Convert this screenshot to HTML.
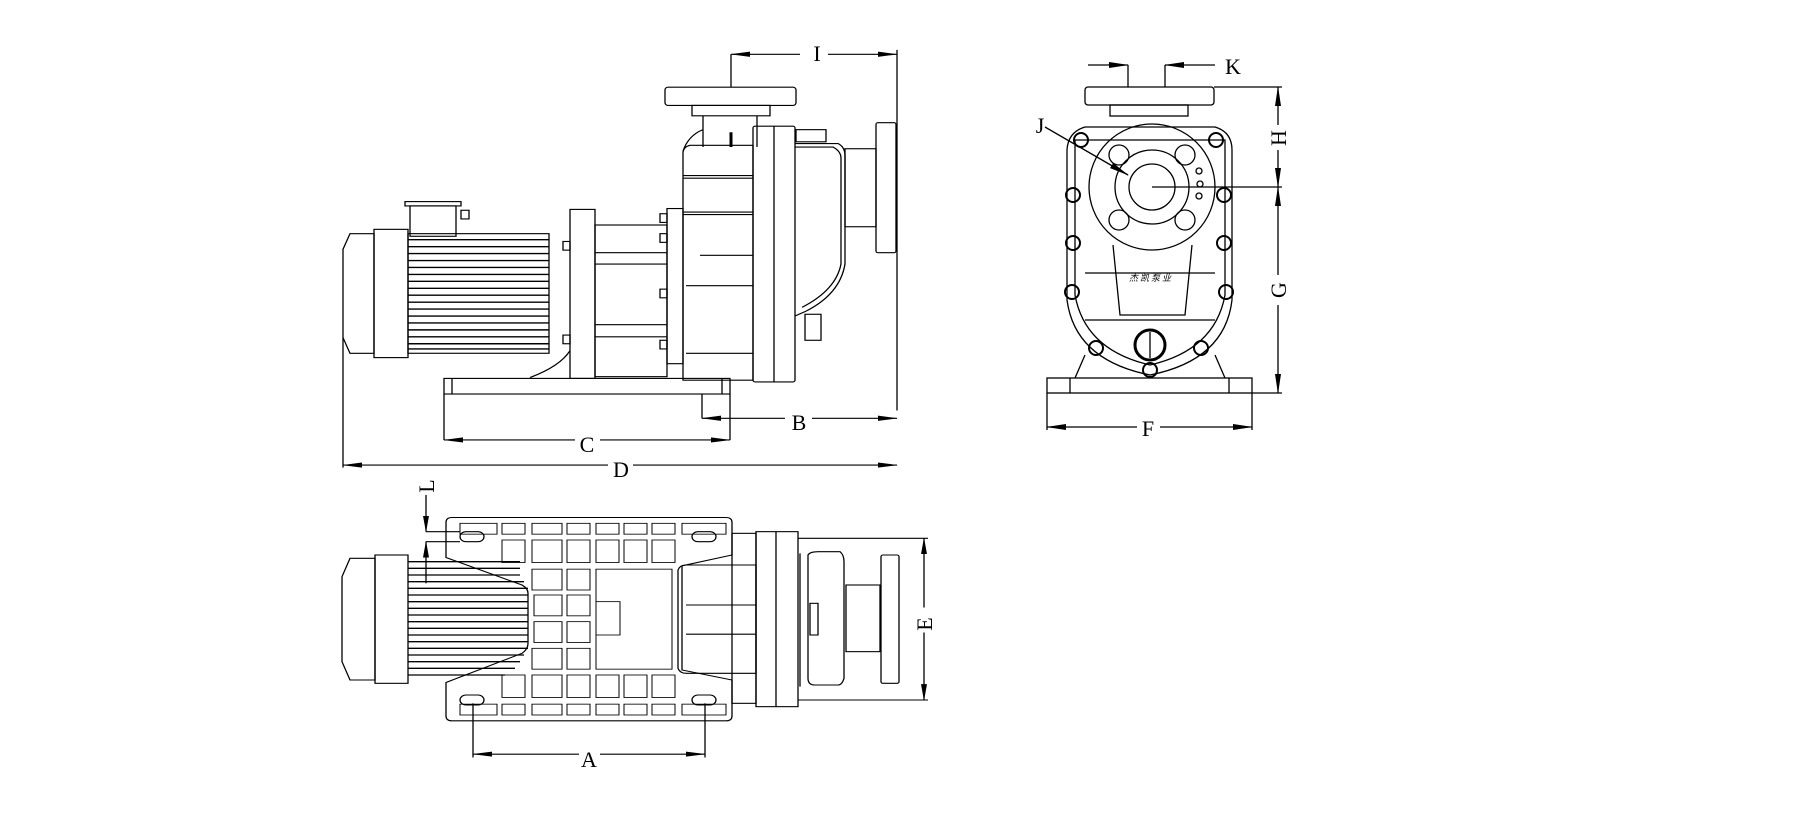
<!DOCTYPE html>
<html><head><meta charset="utf-8"><style>
html,body{margin:0;padding:0;background:#fff;}
svg{display:block;}
text{font-family:"Liberation Serif",serif;font-size:22px;fill:#000;}
</style></head><body>
<svg width="1812" height="821" viewBox="0 0 1812 821" xmlns="http://www.w3.org/2000/svg">
<defs>
<marker id="a" markerWidth="20" markerHeight="8" refX="19" refY="4" orient="auto-start-reverse" markerUnits="userSpaceOnUse">
<path d="M0,1 L20,4 L0,7 Z" fill="#000"/></marker>
</defs>
<g fill="none" stroke="#000" stroke-width="1.3">
<!-- ===== SIDE VIEW ===== -->
<g transform="translate(0,30) scale(1,0.8667) translate(0,-30)">
<path d="M350,265 L374,265 L374,403 L350,403 L343,385 L343,283 Z"/>
<rect x="374" y="260" width="34" height="148"/>
<rect x="408" y="265" width="141" height="138"/>
<g stroke-width="1.6">
<line x1="408" y1="272" x2="549" y2="272"/><line x1="408" y1="280" x2="549" y2="280"/><line x1="408" y1="288" x2="549" y2="288"/><line x1="408" y1="296" x2="549" y2="296"/><line x1="408" y1="304" x2="549" y2="304"/><line x1="408" y1="312" x2="549" y2="312"/><line x1="408" y1="320" x2="549" y2="320"/><line x1="408" y1="328" x2="549" y2="328"/><line x1="408" y1="336" x2="549" y2="336"/><line x1="408" y1="344" x2="549" y2="344"/><line x1="408" y1="352" x2="549" y2="352"/><line x1="408" y1="360" x2="549" y2="360"/><line x1="408" y1="368" x2="549" y2="368"/><line x1="408" y1="376" x2="549" y2="376"/><line x1="408" y1="384" x2="549" y2="384"/><line x1="408" y1="392" x2="549" y2="392"/><line x1="408" y1="398" x2="549" y2="398"/>
</g>
<rect x="405" y="228" width="56" height="5"/>
<rect x="410" y="233" width="46" height="35"/>
<rect x="461" y="238" width="8" height="10"/>
<rect x="570" y="237" width="25" height="195"/>
<rect x="563" y="274" width="7" height="10"/><rect x="563" y="382" width="7" height="10"/>
<rect x="595" y="255" width="72" height="175"/>
<line x1="595" y1="287" x2="667" y2="287"/><line x1="595" y1="300" x2="667" y2="300"/><line x1="595" y1="370" x2="667" y2="370"/><line x1="595" y1="384" x2="667" y2="384"/>
<rect x="660" y="242" width="7" height="10"/><rect x="660" y="265" width="7" height="10"/><rect x="660" y="329" width="7" height="10"/><rect x="660" y="388" width="7" height="10"/>
<rect x="667" y="236" width="16" height="179"/>
<path d="M683,172 L683,434 L753,434 L753,163 L690,163 Q683,165 683,172 Z"/>
<line x1="683" y1="198" x2="753" y2="198"/><line x1="683" y1="201" x2="753" y2="201"/>
<line x1="683" y1="240" x2="753" y2="240"/><line x1="683" y1="243" x2="753" y2="243"/>
<line x1="700" y1="290" x2="753" y2="290"/><line x1="686" y1="325" x2="753" y2="325"/><line x1="686" y1="403" x2="753" y2="403"/>
<rect x="753" y="141" width="42" height="295" rx="2"/>
<line x1="774" y1="141" x2="774" y2="436"/>
<path d="M795,161 L838,161 Q845,165 845,175 L845,300 Q840,335 805,355 L795,360"/>
<path d="M795,165 L833,165 Q841,170 841,178 L841,300 Q836,330 802,350"/>
<rect x="796" y="145" width="30" height="14"/>
<rect x="805" y="358" width="16" height="30"/>
<rect x="845" y="167" width="31" height="90"/>
<rect x="876" y="137" width="20" height="150" rx="2"/>
<rect x="665" y="96" width="131" height="21" rx="3"/>
<rect x="692" y="117" width="78" height="12"/>
<line x1="703" y1="129" x2="703" y2="165"/><line x1="757" y1="129" x2="757" y2="165"/>
<line x1="731" y1="148" x2="731" y2="165" stroke-width="3"/>
<path d="M703,145 Q688,152 683,170"/>
<rect x="444" y="432" width="286" height="18"/>
<line x1="452" y1="432" x2="452" y2="450"/><line x1="722" y1="432" x2="722" y2="450"/>
<path d="M530,431 Q560,418 570,400"/>
<line x1="731" y1="58" x2="731" y2="96"/>
<line x1="897" y1="53" x2="897" y2="469"/>
<line x1="731" y1="58" x2="800" y2="58" marker-start="url(#a)"/><line x1="828" y1="58" x2="897" y2="58" marker-end="url(#a)"/>
<line x1="702" y1="450" x2="702" y2="478"/>
<line x1="702" y1="478" x2="785" y2="478" marker-start="url(#a)"/><line x1="812" y1="478" x2="897" y2="478" marker-end="url(#a)"/>
<line x1="444" y1="450" x2="444" y2="503"/><line x1="730" y1="450" x2="730" y2="503"/>
<line x1="444" y1="503" x2="575" y2="503" marker-start="url(#a)"/><line x1="600" y1="503" x2="730" y2="503" marker-end="url(#a)"/>
<line x1="343" y1="385" x2="343" y2="535"/>
<line x1="343" y1="532" x2="608" y2="532" marker-start="url(#a)"/><line x1="633" y1="532" x2="897" y2="532" marker-end="url(#a)"/>
</g>

<!-- ===== FRONT VIEW ===== -->
<rect x="1085" y="87" width="129" height="18" rx="3"/>
<rect x="1110" y="105" width="78" height="11"/>
<path d="M1085,127 L1215,127 Q1232,132 1232,150 L1232,300 Q1225,360 1150,375 Q1075,360 1067,300 L1067,150 Q1068,132 1085,127 Z"/>
<path d="M1075,140 L1225,140 L1225,295 Q1215,350 1150,365 Q1085,350 1075,295 Z"/>
<circle cx="1152" cy="187" r="63"/>
<circle cx="1152" cy="187" r="37"/><circle cx="1152" cy="187" r="23"/>
<circle cx="1119" cy="155" r="10"/><circle cx="1185" cy="155" r="10"/><circle cx="1119" cy="220" r="10"/><circle cx="1185" cy="220" r="10"/>
<circle cx="1199" cy="171" r="3"/><circle cx="1200" cy="184" r="3"/><circle cx="1199" cy="196" r="3"/>
<path d="M1113,245 L1120,315 L1185,315 L1192,245"/>
<line x1="1085" y1="273" x2="1215" y2="273"/><line x1="1085" y1="320" x2="1215" y2="320"/>
<circle cx="1150" cy="345" r="15" stroke-width="3"/><line x1="1150" y1="332" x2="1150" y2="358"/>
<g stroke-width="2">
<circle cx="1081" cy="140" r="7"/><circle cx="1216" cy="140" r="7"/><circle cx="1073" cy="195" r="7"/><circle cx="1224" cy="195" r="7"/>
<circle cx="1073" cy="243" r="7"/><circle cx="1224" cy="243" r="7"/><circle cx="1072" cy="292" r="7"/><circle cx="1226" cy="292" r="7"/>
<circle cx="1096" cy="348" r="7"/><circle cx="1201" cy="348" r="7"/><circle cx="1150" cy="370" r="7"/>
</g>
<path d="M1085,355 L1075,378 M1215,355 L1225,378"/>
<rect x="1047" y="378" width="205" height="15"/>
<line x1="1070" y1="378" x2="1070" y2="393"/><line x1="1229" y1="378" x2="1229" y2="393"/>
<line x1="1088" y1="65" x2="1128" y2="65" marker-end="url(#a)"/><line x1="1128" y1="65" x2="1128" y2="87"/>
<line x1="1215" y1="65" x2="1165" y2="65" marker-end="url(#a)"/><line x1="1165" y1="65" x2="1165" y2="87"/>
<line x1="1214" y1="87" x2="1282" y2="87"/><line x1="1152" y1="187" x2="1282" y2="187"/><line x1="1252" y1="393" x2="1282" y2="393"/>
<line x1="1278" y1="125" x2="1278" y2="87" marker-end="url(#a)"/><line x1="1278" y1="150" x2="1278" y2="187" marker-end="url(#a)"/>
<line x1="1278" y1="275" x2="1278" y2="187" marker-end="url(#a)"/><line x1="1278" y1="305" x2="1278" y2="393" marker-end="url(#a)"/>
<line x1="1047" y1="393" x2="1047" y2="430"/><line x1="1252" y1="393" x2="1252" y2="430"/>
<line x1="1137" y1="427" x2="1047" y2="427" marker-end="url(#a)"/><line x1="1160" y1="427" x2="1252" y2="427" marker-end="url(#a)"/>
<line x1="1045" y1="127" x2="1128" y2="175" marker-end="url(#a)"/>

<!-- ===== TOP VIEW ===== -->
<g transform="translate(0,470) scale(1,0.8333) translate(0,-470)">
<path d="M350,576 L375,576 L375,722 L350,722 L342,700 L342,598 Z"/>
<rect x="375" y="572" width="33" height="154"/>
<g stroke-width="1.6">
<line x1="408" y1="580" x2="520" y2="580"/><line x1="408" y1="588" x2="520" y2="588"/><line x1="408" y1="596" x2="520" y2="596"/><line x1="408" y1="604" x2="524" y2="604"/><line x1="408" y1="612" x2="528" y2="612"/><line x1="408" y1="620" x2="528" y2="620"/><line x1="408" y1="628" x2="528" y2="628"/><line x1="408" y1="636" x2="528" y2="636"/><line x1="408" y1="644" x2="528" y2="644"/><line x1="408" y1="652" x2="528" y2="652"/><line x1="408" y1="660" x2="528" y2="660"/><line x1="408" y1="668" x2="528" y2="668"/><line x1="408" y1="676" x2="528" y2="676"/><line x1="408" y1="684" x2="528" y2="684"/><line x1="408" y1="692" x2="524" y2="692"/><line x1="408" y1="700" x2="520" y2="700"/><line x1="408" y1="708" x2="515" y2="708"/><line x1="408" y1="716" x2="505" y2="716"/>
</g>
<path d="M452,527 L726,527 Q732,527 732,533 L732,572 L682,585 L682,710 L732,722 L732,765 Q732,771 726,771 L452,771 Q446,771 446,765 L446,725 L522,690 Q528,685 528,678 L528,618 Q528,612 522,608 L446,575 L446,533 Q446,527 452,527 Z"/>
<g stroke-width="1">
<rect x="502" y="534" width="23" height="13"/><rect x="532" y="534" width="30" height="13"/><rect x="567" y="534" width="23" height="13"/><rect x="596" y="534" width="23" height="13"/><rect x="624" y="534" width="23" height="13"/><rect x="652" y="534" width="23" height="13"/>
<rect x="502" y="554" width="23" height="27"/><rect x="532" y="554" width="30" height="27"/><rect x="567" y="554" width="23" height="27"/><rect x="596" y="554" width="23" height="27"/><rect x="624" y="554" width="23" height="27"/><rect x="652" y="554" width="23" height="27"/>
<rect x="532" y="589" width="30" height="25"/><rect x="567" y="589" width="23" height="25"/>
<rect x="534" y="620" width="28" height="25"/><rect x="567" y="620" width="23" height="25"/>
<rect x="534" y="652" width="28" height="25"/><rect x="567" y="652" width="23" height="25"/>
<rect x="532" y="684" width="30" height="25"/><rect x="567" y="684" width="23" height="25"/>
<rect x="596" y="589" width="76" height="120"/><rect x="596" y="628" width="24" height="40"/>
<rect x="502" y="716" width="23" height="27"/><rect x="532" y="716" width="30" height="27"/><rect x="567" y="716" width="23" height="27"/><rect x="596" y="716" width="23" height="27"/><rect x="624" y="716" width="23" height="27"/><rect x="652" y="716" width="23" height="27"/>
<rect x="502" y="751" width="23" height="13"/><rect x="532" y="751" width="30" height="13"/><rect x="567" y="751" width="23" height="13"/><rect x="596" y="751" width="23" height="13"/><rect x="624" y="751" width="23" height="13"/><rect x="652" y="751" width="23" height="13"/>
<rect x="460" y="534" width="37" height="13"/><rect x="460" y="751" width="37" height="13"/>
<rect x="682" y="534" width="44" height="13"/><rect x="682" y="751" width="44" height="13"/>
</g>
<rect x="460" y="544" width="24" height="12" rx="6"/><rect x="692" y="544" width="24" height="12" rx="6"/>
<rect x="460" y="740" width="24" height="12" rx="6"/><rect x="692" y="740" width="24" height="12" rx="6"/>
<rect x="732" y="546" width="24" height="204"/>
<path d="M678,590 Q680,584 686,584 L756,584 L756,714 L686,714 Q680,714 678,708 Z"/>
<line x1="686" y1="632" x2="756" y2="632"/><line x1="686" y1="667" x2="756" y2="667"/>
<rect x="756" y="544" width="42" height="210"/>
<line x1="776" y1="544" x2="776" y2="754"/>
<path d="M808,572 Q810,568 818,568 L840,568 Q844,572 844,580 L844,720 Q842,728 838,728 L815,728 Q808,728 808,720 Z"/>
<line x1="800" y1="570" x2="800" y2="730"/>
<rect x="810" y="630" width="8" height="38"/>
<rect x="846" y="608" width="34" height="80"/>
<rect x="881" y="572" width="18" height="154" rx="2"/>
<line x1="798" y1="552" x2="928" y2="552"/><line x1="798" y1="746" x2="928" y2="746"/>
<line x1="924" y1="635" x2="924" y2="552" marker-end="url(#a)"/><line x1="924" y1="665" x2="924" y2="746" marker-end="url(#a)"/>
<line x1="473" y1="750" x2="473" y2="815"/><line x1="705" y1="750" x2="705" y2="815"/>
<line x1="579" y1="811" x2="473" y2="811" marker-end="url(#a)"/><line x1="600" y1="811" x2="705" y2="811" marker-end="url(#a)"/>
<line x1="426" y1="500" x2="426" y2="544" marker-end="url(#a)"/><line x1="426" y1="544" x2="460" y2="544"/>
<line x1="426" y1="606" x2="426" y2="556" marker-end="url(#a)"/><line x1="426" y1="556" x2="460" y2="556"/>
</g>
</g>
<!-- labels -->
<text x="817" y="61" text-anchor="middle">I</text>
<text x="799" y="430" text-anchor="middle">B</text>
<text x="587" y="452" text-anchor="middle">C</text>
<text x="621" y="477" text-anchor="middle">D</text>
<text x="1233" y="74" text-anchor="middle">K</text>
<text x="1148" y="436" text-anchor="middle">F</text>
<text x="1040" y="133" text-anchor="middle">J</text>
<text transform="translate(1286,138) rotate(-90)" text-anchor="middle">H</text>
<text transform="translate(1286,290) rotate(-90)" text-anchor="middle">G</text>
<text transform="translate(932,624) rotate(-90)" text-anchor="middle">E</text>
<text transform="translate(434,486) rotate(-90)" text-anchor="middle">L</text>
<text x="589" y="767" text-anchor="middle">A</text>
<text x="1150" y="281" text-anchor="middle" style="font-size:9px;font-family:'Noto Sans CJK SC',sans-serif;font-style:italic">杰 凯 泵 业</text>
</svg>
</body></html>
